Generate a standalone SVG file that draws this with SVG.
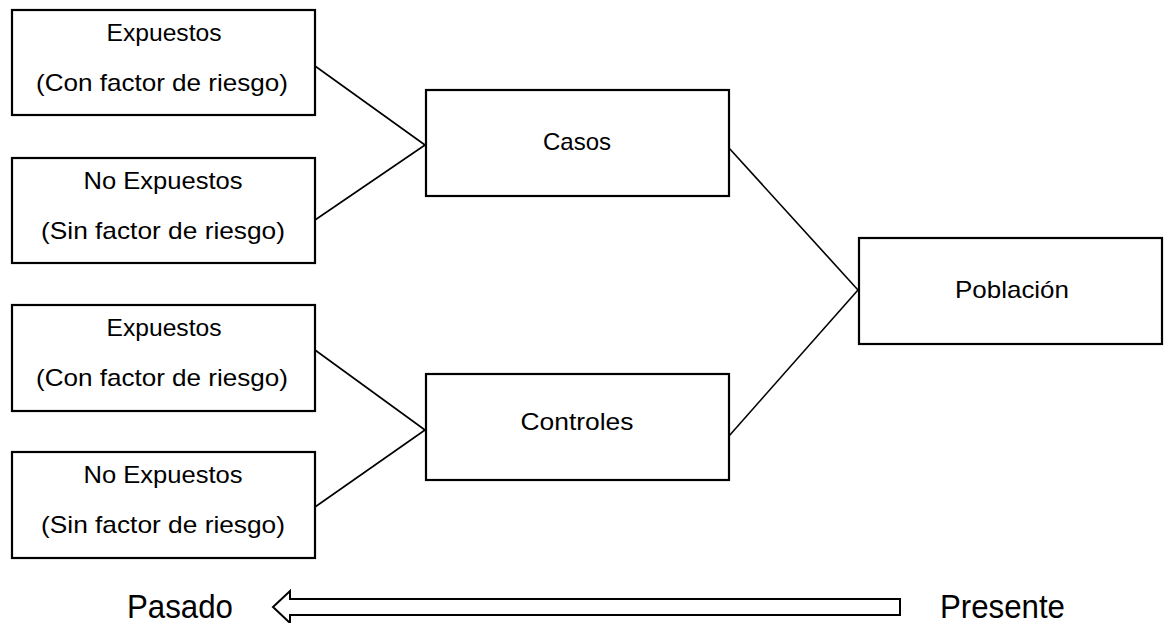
<svg xmlns="http://www.w3.org/2000/svg" width="1168" height="623" viewBox="0 0 1168 623">
<style>
.box{fill:#fff;stroke:#000;stroke-width:2.2}
.lbl{font-family:"Liberation Sans",Arial,sans-serif;font-size:24px;fill:#000;text-anchor:middle}
.big{font-family:"Liberation Sans",Arial,sans-serif;font-size:34px;fill:#000}
.con{stroke:#000;stroke-width:1.6;fill:none}
</style>
<rect width="1168" height="623" fill="#fff"/>
<g id="connectors">
<line class="con" x1="315" y1="66" x2="425" y2="145"/>
<line class="con" x1="315" y1="220" x2="425" y2="145"/>
<line class="con" x1="315" y1="350" x2="425" y2="430"/>
<line class="con" x1="315" y1="507" x2="425" y2="430"/>
<line class="con" x1="729" y1="148" x2="858" y2="290"/>
<line class="con" x1="729" y1="436" x2="858" y2="290"/>
</g>
<g id="exp1">
<rect class="box" x="12" y="10" width="303" height="105"/>
<text class="lbl" x="164" y="41" textLength="115" lengthAdjust="spacingAndGlyphs">Expuestos</text>
<text class="lbl" x="162" y="91" textLength="252" lengthAdjust="spacingAndGlyphs">(Con factor de riesgo)</text>
</g>
<g id="noexp1">
<rect class="box" x="12" y="158" width="303" height="105"/>
<text class="lbl" x="163" y="189" textLength="159" lengthAdjust="spacingAndGlyphs">No Expuestos</text>
<text class="lbl" x="163" y="239" textLength="244" lengthAdjust="spacingAndGlyphs">(Sin factor de riesgo)</text>
</g>
<g id="exp2">
<rect class="box" x="12" y="305" width="303" height="106"/>
<text class="lbl" x="164" y="336" textLength="115" lengthAdjust="spacingAndGlyphs">Expuestos</text>
<text class="lbl" x="162" y="386" textLength="252" lengthAdjust="spacingAndGlyphs">(Con factor de riesgo)</text>
</g>
<g id="noexp2">
<rect class="box" x="12" y="452" width="303" height="106"/>
<text class="lbl" x="163" y="483" textLength="159" lengthAdjust="spacingAndGlyphs">No Expuestos</text>
<text class="lbl" x="163" y="533" textLength="244" lengthAdjust="spacingAndGlyphs">(Sin factor de riesgo)</text>
</g>
<g id="casos">
<rect class="box" x="426" y="90" width="303" height="106"/>
<text class="lbl" x="577" y="150" textLength="68" lengthAdjust="spacingAndGlyphs">Casos</text>
</g>
<g id="controles">
<rect class="box" x="426" y="374" width="303" height="106"/>
<text class="lbl" x="577" y="430" textLength="113" lengthAdjust="spacingAndGlyphs">Controles</text>
</g>
<g id="poblacion">
<rect class="box" x="859" y="238" width="303" height="106"/>
<text class="lbl" x="1012" y="298" textLength="114" lengthAdjust="spacingAndGlyphs">Población</text>
</g>
<g id="timeline">
<path d="M900,599 L290,599 L290,591 L273,607 L290,623 L290,615 L900,615 Z" fill="#fff" stroke="#000" stroke-width="2"/>
<text class="big" x="127" y="618" textLength="106" lengthAdjust="spacingAndGlyphs">Pasado</text>
<text class="big" x="940" y="618" textLength="125" lengthAdjust="spacingAndGlyphs">Presente</text>
</g>
</svg>
